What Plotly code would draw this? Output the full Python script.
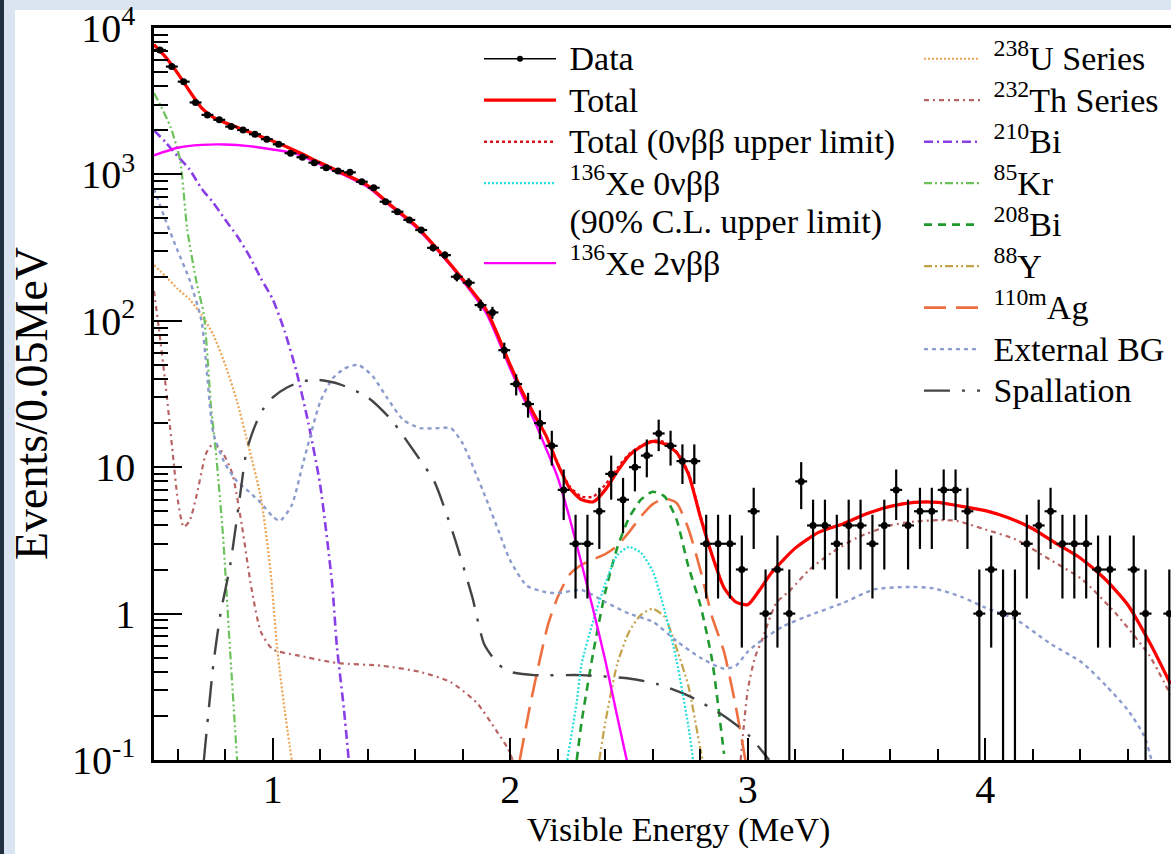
import plotly.graph_objects as go
import numpy as np

# ---------------- data ----------------
bin_centers = [0.525, 0.575, 0.625, 0.675, 0.725, 0.775, 0.825, 0.875, 0.925, 0.975,
               1.025, 1.075, 1.125, 1.175, 1.225, 1.275, 1.325, 1.375, 1.425, 1.475,
               1.525, 1.575, 1.625, 1.675, 1.725, 1.775, 1.825, 1.875, 1.925, 1.975,
               2.025, 2.075, 2.125, 2.175, 2.225, 2.275, 2.325, 2.375, 2.425, 2.475,
               2.525, 2.575, 2.625, 2.675, 2.725, 2.775, 2.825, 2.875, 2.925, 2.975,
               3.025, 3.075, 3.125, 3.175, 3.225, 3.275, 3.325, 3.375, 3.425, 3.475,
               3.525, 3.575, 3.625, 3.675, 3.725, 3.775, 3.825, 3.875, 3.925, 3.975,
               4.025, 4.075, 4.125, 4.175, 4.225, 4.275, 4.325, 4.375, 4.425, 4.475,
               4.525, 4.575, 4.625, 4.675, 4.725, 4.775]
counts = [7080, 5450, 4300, 3100, 2550, 2360, 2120, 2010, 1880, 1740,
          1605, 1395, 1310, 1203, 1111, 1055, 1033, 891, 811, 651,
          556, 489, 417, 315, 281, 200, 182, 128, 114, 63,
          37, 27, 20, 14, 7, 3, 3, 5, 9, 6,
          10, 12, 17, 14, 11, 11, 3, 3, 3, 2,
          5, 1, 2, 1, 8, 4, 4, 3, 4, 4,
          3, 4, 7, 4, 5, 5, 7, 7, 5, 1,
          2, 1, 1, 3, 4, 5, 3, 3, 3, 2,
          2, 0, 2, 1, 0, 1]

total_E = [0.5, 0.55, 0.6, 0.65, 0.7, 0.75, 0.8, 0.9, 1.0, 1.1, 1.2, 1.3, 1.4, 1.5, 1.6,
           1.7, 1.8, 1.9, 2.0, 2.05, 2.1, 2.15, 2.2, 2.25, 2.3, 2.35, 2.4, 2.45, 2.5,
           2.55, 2.6, 2.65, 2.7, 2.75, 2.8, 2.85, 2.9, 2.95, 3.0, 3.05, 3.1, 3.2, 3.3,
           3.4, 3.5, 3.6, 3.7, 3.8, 3.9, 4.0, 4.1, 4.2, 4.3, 4.4, 4.5, 4.6, 4.7, 4.78]
total_V = [7700, 6300, 4900, 3700, 2850, 2450, 2250, 1950, 1690, 1440, 1200, 1010, 840, 610, 450,
           300, 192, 118, 50, 33, 23, 16.5, 10.5, 7.2, 6.0, 5.8, 7.0, 9.3, 12.0,
           13.8, 15.0, 14.4, 12.6, 9.0, 4.6, 2.5, 1.5, 1.2, 1.15, 1.45, 1.9, 2.8, 3.6,
           4.1, 4.8, 5.4, 5.75, 5.75, 5.4, 5.05, 4.5, 3.8, 3.0, 2.4, 1.75, 1.15, 0.6, 0.33]
total_ul_V = [7700, 6300, 4900, 3700, 2850, 2450, 2250, 1950, 1690, 1440, 1200, 1010, 840, 610, 450,
              300, 192, 118, 50, 33, 23, 16.5, 10.6, 7.4, 6.3, 6.3, 7.6, 9.8, 12.3,
              14.0, 15.2, 14.8, 12.8, 9.2, 4.7, 2.5, 1.5, 1.2, 1.15, 1.45, 1.9, 2.8, 3.6,
              4.1, 4.8, 5.4, 5.75, 5.75, 5.4, 5.05, 4.5, 3.8, 3.0, 2.4, 1.75, 1.15, 0.6, 0.33]

xe2n_E = [0.5, 0.6, 0.7, 0.8, 0.9, 1.0, 1.1, 1.2, 1.3, 1.4, 1.5, 1.6, 1.7, 1.8, 1.9, 2.0,
          2.05, 2.1, 2.15, 2.2, 2.25, 2.3, 2.35, 2.4, 2.45, 2.5]
xe2n_V = [1350, 1520, 1590, 1600, 1560, 1480, 1380, 1170, 990, 820, 600, 440, 295, 188, 112, 47,
          31, 21, 13.5, 8.5, 4.5, 2.2, 1.05, 0.48, 0.2, 0.085]

xe0n_E = [2.24, 2.28, 2.3, 2.35, 2.4, 2.45, 2.5, 2.55, 2.6, 2.65, 2.7, 2.75, 2.77]
xe0n_V = [0.1, 0.25, 0.45, 0.9, 1.6, 2.5, 2.85, 2.6, 1.95, 1.05, 0.48, 0.17, 0.1]

u238_E = [0.5, 0.55, 0.6, 0.65, 0.7, 0.75, 0.8, 0.85, 0.9, 0.95, 0.99, 1.02, 1.05, 1.08]
u238_V = [240, 200, 165, 140, 110, 80, 50, 28, 13.5, 6.2, 2.0, 0.55, 0.22, 0.1]

th232_E = [0.5, 0.52, 0.55, 0.58, 0.6, 0.625, 0.65, 0.68, 0.72, 0.75, 0.79, 0.83, 0.87, 0.91,
           0.95, 1.0, 1.1, 1.27, 1.46, 1.62, 1.75, 1.86, 1.94, 1.99, 2.01, 2.5,
           2.97, 3.0, 3.03, 3.06, 3.12, 3.18, 3.26, 3.36, 3.46, 3.6, 3.7, 3.81, 3.88, 3.99,
           4.13, 4.27, 4.41, 4.55, 4.69, 4.78]
th232_V = [160, 90, 35, 12, 6, 3.9, 4.3, 6.5, 12.5, 14.5, 12.5, 9, 4, 1.5,
           0.75, 0.57, 0.52, 0.46, 0.44, 0.40, 0.34, 0.245, 0.16, 0.12, 0.1, None,
           0.1, 0.3, 0.5, 0.66, 1.18, 1.45, 2.0, 2.65, 3.3, 4.0, 4.25, 4.35, 4.3, 3.8,
           3.2, 2.35, 1.7, 1.0, 0.52, 0.28]

bi210_E = [0.5, 0.55, 0.6, 0.65, 0.7, 0.75, 0.8, 0.85, 0.9, 0.95, 1.0, 1.05, 1.1, 1.15, 1.2,
           1.25, 1.27, 1.3, 1.32]
bi210_V = [2000, 1650, 1330, 1080, 800, 640, 490, 380, 280, 195, 140, 85, 45, 20, 7.5,
           1.6, 0.6, 0.22, 0.1]

kr85_E = [0.5, 0.53, 0.57, 0.61, 0.64, 0.68, 0.71, 0.74, 0.76, 0.79, 0.82, 0.85]
kr85_V = [3600, 2900, 2100, 1250, 420, 180, 110, 26, 13, 3.5, 0.57, 0.1]

bi208_E = [2.28, 2.3, 2.35, 2.4, 2.45, 2.5, 2.55, 2.6, 2.65, 2.7, 2.75, 2.8, 2.85, 2.9]
bi208_V = [0.1, 0.18, 0.55, 1.4, 2.8, 4.5, 6.0, 6.8, 6.3, 4.4, 2.1, 1.15, 0.48, 0.11]

y88_E = [2.375, 2.4, 2.45, 2.5, 2.55, 2.6, 2.65, 2.7, 2.75, 2.8, 2.81]
y88_V = [0.1, 0.18, 0.45, 0.75, 0.98, 1.08, 0.95, 0.58, 0.32, 0.12, 0.1]

ag110_E = [2.04, 2.08, 2.12, 2.16, 2.2, 2.25, 2.3, 2.35, 2.4, 2.45, 2.5, 2.55, 2.6, 2.65,
           2.7, 2.75, 2.8, 2.85, 2.9, 2.95, 2.99]
ag110_V = [0.1, 0.22, 0.45, 0.85, 1.3, 1.85, 2.15, 2.35, 2.55, 2.9, 3.6, 4.6, 5.6, 6.1,
           5.7, 3.8, 2.0, 0.95, 0.55, 0.23, 0.1]

ext_E = [0.5, 0.55, 0.6, 0.65, 0.7, 0.72, 0.75, 0.8, 0.85, 0.9, 0.95, 1.0, 1.03, 1.08, 1.13,
         1.2, 1.25, 1.3, 1.36, 1.42, 1.48, 1.55, 1.62, 1.7, 1.75, 1.8, 1.85, 1.9, 1.95, 2.0,
         2.07, 2.15, 2.2, 2.3, 2.4, 2.5, 2.6, 2.7, 2.8, 2.9, 2.95, 3.0, 3.06, 3.15, 3.25,
         3.4, 3.53, 3.67, 3.78, 3.9, 4.0, 4.13, 4.27, 4.41, 4.51, 4.6, 4.67, 4.7]
ext_V = [800, 480, 300, 190, 100, 50, 17, 10.5, 8, 6.8, 5.7, 4.6, 4.3, 5.5, 11,
         28, 40, 47, 50, 42, 30, 21, 18.5, 18.5, 18.5, 14.5, 9.5, 6, 3.7, 2.3,
         1.55, 1.4, 1.38, 1.45, 1.2, 1.0, 0.88, 0.65, 0.5, 0.42, 0.44, 0.55, 0.66, 0.82, 0.96,
         1.18, 1.46, 1.52, 1.49, 1.3, 1.1, 0.91, 0.63, 0.46, 0.32, 0.22, 0.145, 0.1]

spal_E = [0.71, 0.75, 0.78, 0.82, 0.86, 0.89, 0.93, 0.96, 1.0, 1.06, 1.12, 1.19, 1.28, 1.4,
          1.5, 1.6, 1.68, 1.76, 1.84, 1.89, 1.95, 2.0, 2.1, 2.3, 2.5, 2.62, 2.76, 2.9, 3.0, 3.09]
spal_V = [0.1, 0.45, 1.0, 2.1, 6, 13, 20, 25, 30, 35, 38.5, 39.5, 37, 30,
          21, 12.5, 8, 3.5, 1.3, 0.62, 0.45, 0.4, 0.38, 0.38, 0.36, 0.33, 0.27, 0.2, 0.15, 0.1]

# ---------------- layout constants ----------------
W, H = 1171, 854
ML, MR, MT, MB = 154, 0, 28, 94
PX_PER_MEV = 237.5
X_RANGE = [0.5, 0.5 + (W - ML - MR) / PX_PER_MEV]
FONT = "Liberation Serif"
LEG_FS = 29.6      # legend line pitch
LEG_TXT = 34       # legend glyph size

fig = go.Figure()


def lab(t):
    return '<span style="font-size:%dpx"> %s</span>' % (LEG_TXT, t)


def comp(name, E, V, color, dash, width=2.2, legend="legend2", rank=1000):
    fig.add_trace(go.Scatter(
        x=E, y=V, mode="lines", name=lab(name),
        line=dict(color=color, dash=dash, width=width, shape="spline", smoothing=0.6),
        connectgaps=False, legend=legend, legendgroup=name, legendrank=rank,
        hoverinfo="skip"))


# components (right legend)
comp("<sup>238</sup>U Series", u238_E, u238_V, "#eda452", "2px,2px", rank=1)
comp("<sup>232</sup>Th Series", th232_E, th232_V, "#b86464", "5px,4px,2px,4px", rank=2)
comp("<sup>210</sup>Bi", bi210_E, bi210_V, "#8a3ee6", "9px,4px,2px,4px", width=2.6, rank=3)
comp("<sup>85</sup>Kr", kr85_E, kr85_V, "#6cc25a", "8px,3px,2px,3px,2px,3px", rank=4)
comp("<sup>208</sup>Bi", bi208_E, bi208_V, "#1f9a2e", "8px,6px", width=2.6, rank=5)
comp("<sup>88</sup>Y", y88_E, y88_V, "#c4a24a", "8px,3px,2px,3px,2px,3px", rank=6)
comp("<sup>110m</sup>Ag", ag110_E, ag110_V, "#ee7040", "22px,10px", width=2.6, rank=7)
comp("External BG", ext_E, ext_V, "#8c9ccc", "4px,4px", width=2.4, rank=8)
comp("Spallation", spal_E, spal_V, "#444444", "26px,12px,3px,12px", width=2.4, rank=9)

# left legend
comp("<sup>136</sup>Xe 0νββ<br> (90% C.L. upper limit)", xe0n_E, xe0n_V, "#22dddd", "2px,2px",
     legend="legend", rank=4)
comp("<sup>136</sup>Xe 2νββ", xe2n_E, xe2n_V, "#ff00ff", "solid", width=2.4,
     legend="legend", rank=5)
comp("Total (0νββ upper limit)", total_E, total_ul_V, "#e01020", "3px,3px", width=2.4,
     legend="legend", rank=3)
comp("Total", total_E, total_V, "#ff0000", "solid", width=3.2, legend="legend", rank=2)

# data points with Poisson errors
data_y = [c if c > 0 else None for c in counts]
data_err = [float(np.sqrt(c)) for c in counts]
fig.add_trace(go.Scatter(
    x=bin_centers, y=data_y, mode="markers", showlegend=False,
    marker=dict(color="black", size=7, symbol="circle"),
    error_y=dict(type="data", array=data_err, visible=True, color="black", thickness=2.2, width=0),
    error_x=dict(type="constant", value=0.025, visible=True, color="black", thickness=2.2, width=0),
    hoverinfo="skip"))
# legend entry for data (line with a dot)
fig.add_trace(go.Scatter(
    x=[None], y=[None], mode="lines+markers", name=lab("Data"),
    line=dict(color="black", width=1.6), marker=dict(color="black", size=6),
    legend="legend", legendgroup="Data", legendrank=1))

# ---------------- axes ----------------
fig.update_xaxes(
    range=X_RANGE, showgrid=False, zeroline=False,
    showline=True, linecolor="black", linewidth=2.5, mirror=True,
    ticks="inside", ticklen=22, tickwidth=2, tickcolor="black",
    tickvals=[1, 2, 3, 4], ticktext=["1", "2", "3", "4"],
    minor=dict(ticks="inside", ticklen=11, tickwidth=2, tickcolor="black",
               tickvals=[0.6, 0.8, 1.2, 1.4, 1.6, 1.8, 2.2, 2.4, 2.6, 2.8,
                         3.2, 3.4, 3.6, 3.8, 4.2, 4.4, 4.6]),
    tickfont=dict(family=FONT, size=40, color="black"), ticklabelstandoff=-8,
)
ymin_ticks = [m * 10.0 ** k for k in range(-1, 4) for m in range(2, 10)]
fig.update_yaxes(
    type="log", range=[-1, 4], showgrid=False, zeroline=False,
    showline=True, linecolor="black", linewidth=2.5, mirror=False,
    ticks="inside", ticklen=28, tickwidth=2, tickcolor="black",
    tickvals=[0.1, 1, 10, 100, 1000, 10000],
    ticktext=["10<sup>-1</sup>", "1", "10", "10<sup>2</sup>", "10<sup>3</sup>", "10<sup>4</sup>"],
    minor=dict(ticks="inside", ticklen=14, tickwidth=2, tickcolor="black", tickvals=ymin_ticks),
    tickfont=dict(family=FONT, size=40, color="black"), ticklabelstandoff=8,
)

plot_w = W - ML - MR
plot_h = H - MT - MB


def px(x):
    return (x - ML) / plot_w


def py(y):
    return 1 - (y - MT) / plot_h


# background: light blue page with white figure area
shapes = [
    dict(type="rect", xref="paper", yref="paper", x0=px(0), x1=px(W), y0=py(H), y1=py(0),
         fillcolor="#dbe5f1", line=dict(width=0), layer="below"),
    dict(type="rect", xref="paper", yref="paper", x0=px(0), x1=px(4), y0=py(H), y1=py(0),
         fillcolor="#22303f", line=dict(width=0), layer="below"),
    dict(type="rect", xref="paper", yref="paper", x0=px(15), x1=px(W), y0=py(H), y1=py(10),
         fillcolor="white", line=dict(width=0), layer="below"),
]

annotations = [
    dict(text="Visible Energy (MeV)", xref="paper", yref="paper", x=px(678), y=py(830),
         showarrow=False, font=dict(family=FONT, size=34, color="black"),
         xanchor="center", yanchor="middle"),
    dict(text="Events/0.05MeV", xref="paper", yref="paper", x=px(31), y=py(404),
         showarrow=False, textangle=-90, font=dict(family=FONT, size=46, color="black"),
         xanchor="center", yanchor="middle"),
]

fig.update_layout(
    width=W, height=H, margin=dict(l=ML, r=MR, t=MT, b=MB),
    paper_bgcolor="white", plot_bgcolor="rgba(0,0,0,0)",
    shapes=shapes, annotations=annotations,
    legend=dict(x=px(479), y=py(33), xanchor="left", yanchor="top",
                bgcolor="rgba(0,0,0,0)", borderwidth=0, itemwidth=72,
                font=dict(family=FONT, size=LEG_FS, color="black"), valign="top",
                tracegroupgap=0, traceorder="grouped", itemclick=False),
    legend2=dict(x=px(919), y=py(33), xanchor="left", yanchor="top",
                 bgcolor="rgba(0,0,0,0)", borderwidth=0, itemwidth=56,
                 font=dict(family=FONT, size=LEG_FS, color="black"), valign="top",
                 tracegroupgap=0, traceorder="grouped", itemclick=False),
    showlegend=True,
)

fig.write_html("out.html", config={"displayModeBar": False},
               post_script="document.body.style.margin='0px';document.body.style.overflow='hidden';")
